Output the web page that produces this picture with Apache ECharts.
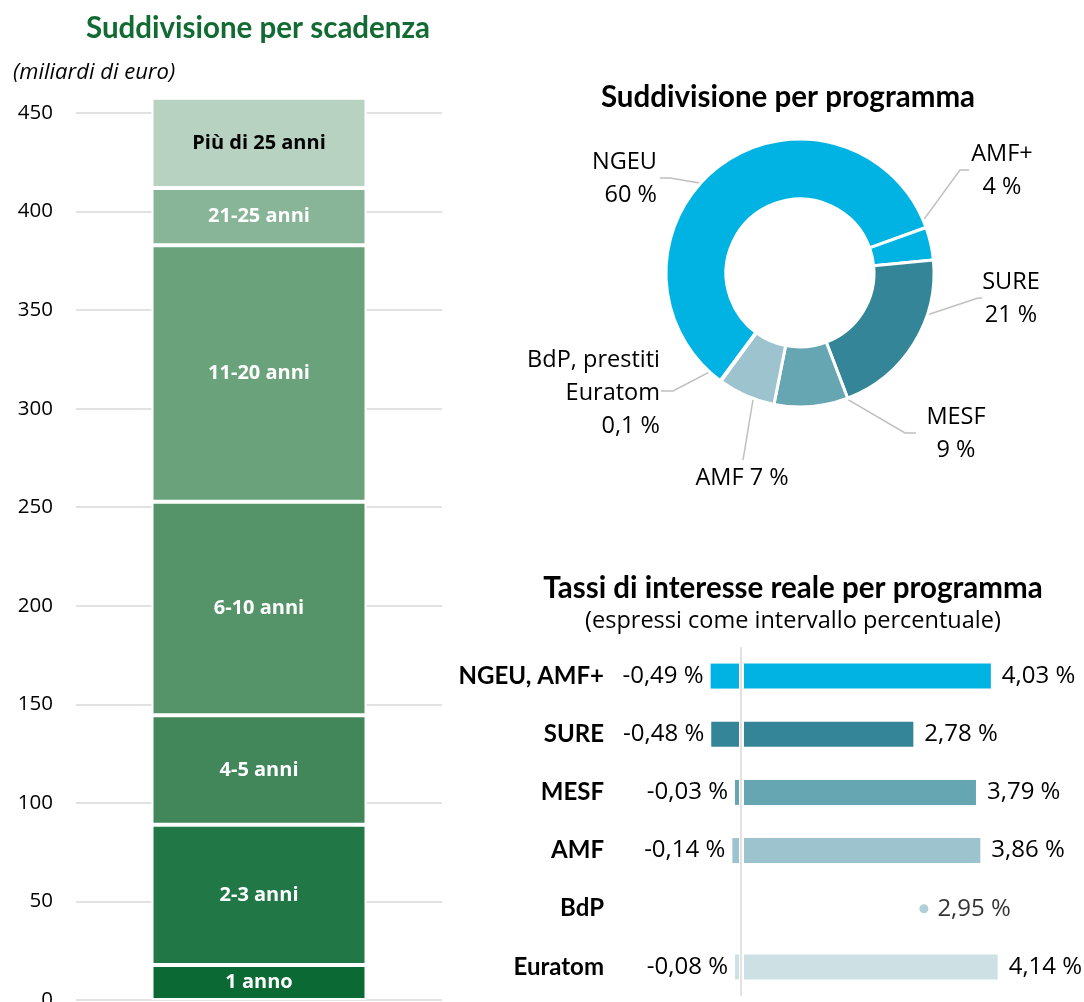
<!DOCTYPE html>
<html>
<head>
<meta charset="utf-8">
<title>Prestiti UE</title>
<script src="https://cdn.jsdelivr.net/npm/echarts@6.0.0/dist/echarts.min.js"></script>
<style>
  html, body { margin: 0; padding: 0; background: #fff; }
  #chart { width: 1084px; height: 1002px; }
</style>
</head>
<body>
<div id="chart"></div>
<script>
// dati
const maturityNames = ['1 anno', '2-3 anni', '4-5 anni', '6-10 anni', '11-20 anni', '21-25 anni', 'Più di 25 anni']
const maturityValues = [17.7, 71.2, 55.5, 108.4, 130.1, 29.0, 45.9]
const maturityColors = ['#0b6a33', '#217846', '#42875a', '#559469', '#6aa27c', '#88b598', '#b8d2c1']

const programmeNames = ['NGEU', 'AMF+', 'SURE', 'MESF', 'AMF', 'BdP, prestiti\nEuratom']
const programmeShares = [60, 4, 21, 9, 7, 0.1]
const programmeShareLabels = ['60 %', '4 %', '21 %', '9 %', '7 %', '0,1 %']
const programmeColors = ['#00b3e3', '#00b3e3', '#348597', '#66a5b2', '#9cc3ce', '#cde1e5']

const rateNames = ['NGEU, AMF+', 'SURE', 'MESF', 'AMF', 'BdP', 'Euratom']
const rateLow = [-0.49, -0.48, -0.03, -0.14, null, -0.08]
const rateHigh = [4.03, 2.78, 3.79, 3.86, null, 4.14]
const ratePoint = [null, null, null, null, 2.95, null]
const rateColors = ['#00b3e3', '#348597', '#66a5b2', '#9cc3ce', '#9cc3ce', '#cde1e5']

const HEAD = 'Lato'        // titoli ed etichette di categoria
const BODY = 'Open Sans'   // testi normali
const TXT = '#000'

const fmtPct = v => v.toFixed(2).replace('.', ',') + ' %'

// posizione delle etichette della ciambella
const pieCenter = [800, 273]
const pieRadius = [74, 134]
const pieLabelSpots = [
  { x: 657, y: 179, align: 'right', elbow: [670, 178], end: [660, 178] },
  { x: 1002, y: 171, align: 'center', elbow: [960, 170], end: [969, 170] },
  { x: 1011, y: 299, align: 'center', elbow: [978, 298], end: [982, 298] },
  { x: 956, y: 434, align: 'center', elbow: [905, 433], end: [916, 433] },
  { x: 742, y: 478, align: 'center', elbow: [743, 460], end: [743, 460] },
  { x: 660, y: 393, align: 'right', elbow: [673, 391], end: [661, 391] }
]

const chart = echarts.init(document.getElementById('chart'), null, { renderer: 'canvas' })

const maturitySeries = maturityNames.map((name, i) => ({
  name: name,
  type: 'bar',
  stack: 'scadenza',
  xAxisIndex: 0,
  yAxisIndex: 0,
  barWidth: 215,
  clip: false,
  data: [maturityValues[i]],
  itemStyle: { color: maturityColors[i], borderColor: '#fff', borderWidth: 2 },
  label: {
    show: true,
    position: 'inside',
    formatter: name,
    color: i === maturityNames.length - 1 ? '#000' : '#fff',
    fontFamily: BODY,
    fontWeight: 'bold',
    fontSize: 20
  }
}))

const valueLabel = {
  show: true,
  color: TXT,
  fontFamily: BODY,
  fontSize: 24
}

const option = {
  animation: false,
  backgroundColor: '#fff',
  graphic: [
    { type: 'text', style: { text: 'Suddivisione per scadenza', x: 258, y: 28, align: 'center', verticalAlign: 'middle', fill: '#136b34', font: 'bold 29.5px ' + HEAD } },
    { type: 'text', style: { text: '(miliardi di euro)', x: 13, y: 73, align: 'left', verticalAlign: 'middle', fill: TXT, font: 'italic 22px ' + BODY } },
    { type: 'text', style: { text: 'Suddivisione per programma', x: 788, y: 97, align: 'center', verticalAlign: 'middle', fill: TXT, font: 'bold 29.5px ' + HEAD } },
    { type: 'text', style: { text: 'Tassi di interesse reale per programma', x: 793, y: 588, align: 'center', verticalAlign: 'middle', fill: TXT, font: 'bold 29.5px ' + HEAD } },
    { type: 'text', style: { text: '(espressi come intervallo percentuale)', x: 793, y: 621, align: 'center', verticalAlign: 'middle', fill: TXT, font: '23.5px ' + BODY } }
  ],
  grid: [
    { left: 76, top: 113, width: 366, height: 887, outerBoundsMode: 'none' },
    { left: 617, top: 647, width: 434, height: 349, outerBoundsMode: 'none' }
  ],
  xAxis: [
    {
      gridIndex: 0,
      type: 'category',
      data: ['totale'],
      axisLine: { show: false },
      axisTick: { show: false },
      axisLabel: { show: false }
    },
    {
      gridIndex: 1,
      type: 'value',
      min: -2,
      max: 5,
      show: false
    }
  ],
  yAxis: [
    {
      gridIndex: 0,
      type: 'value',
      min: 0,
      max: 450,
      interval: 50,
      axisLine: { show: false },
      axisTick: { show: false },
      splitLine: { lineStyle: { color: '#d9d9d9', width: 1.5 } },
      axisLabel: { color: TXT, fontFamily: BODY, fontSize: 20.5, margin: 23 }
    },
    {
      gridIndex: 1,
      type: 'category',
      inverse: true,
      data: rateNames,
      axisLine: { show: false },
      axisTick: { show: false },
      splitLine: { show: false },
      axisLabel: { color: TXT, fontFamily: HEAD, fontWeight: 'bold', fontSize: 24, margin: 13 }
    }
  ],
  series: maturitySeries.concat([
    {
      name: 'programma',
      type: 'pie',
      center: pieCenter,
      radius: pieRadius,
      startAngle: 233.5,
      clockwise: true,
      avoidLabelOverlap: false,
      itemStyle: { borderColor: '#fff', borderWidth: 3 },
      data: programmeNames.map((n, i) => ({
        name: n,
        value: programmeShares[i],
        itemStyle: { color: programmeColors[i] }
      })),
      label: {
        show: true,
        color: TXT,
        fontFamily: BODY,
        fontSize: 23.5,
        lineHeight: 33,
        formatter: p => {
          const i = p.dataIndex
          if (i === 4) return programmeNames[i] + ' ' + programmeShareLabels[i]
          return programmeNames[i] + '\n' + programmeShareLabels[i]
        }
      },
      labelLine: { show: true, lineStyle: { color: '#bfbfbf', width: 1.5 } },
      labelLayout: params => {
        const spot = pieLabelSpots[params.dataIndex]
        const p0 = params.labelLinePoints[0]
        const dx = p0[0] - pieCenter[0]
        const dy = p0[1] - pieCenter[1]
        const d = Math.hypot(dx, dy) || 1
        const midR = (pieRadius[0] + pieRadius[1]) / 2
        const start = [pieCenter[0] + dx / d * midR, pieCenter[1] + dy / d * midR]
        return {
          x: spot.x,
          y: spot.y,
          align: spot.align,
          verticalAlign: 'middle',
          labelLinePoints: [start, spot.elbow, spot.end]
        }
      }
    },
    {
      name: 'minimo',
      type: 'bar',
      stack: 'tassi',
      xAxisIndex: 1,
      yAxisIndex: 1,
      barWidth: 25,
      barMinHeight: 6,
      data: rateLow.map((v, i) => v === null ? '-' : { value: v, itemStyle: { color: rateColors[i] } }),
      label: Object.assign({}, valueLabel, {
        position: 'left',
        distance: 7,
        formatter: p => fmtPct(p.value)
      })
    },
    {
      name: 'massimo',
      type: 'bar',
      stack: 'tassi',
      xAxisIndex: 1,
      yAxisIndex: 1,
      barWidth: 25,
      data: rateHigh.map((v, i) => v === null ? '-' : { value: v, itemStyle: { color: rateColors[i] } }),
      label: Object.assign({}, valueLabel, {
        position: 'right',
        distance: 11,
        formatter: p => fmtPct(p.value)
      }),
      markLine: {
        silent: true,
        symbol: 'none',
        label: { show: false },
        data: [
          { xAxis: 0, lineStyle: { color: '#fff', width: 5, type: 'solid' } },
          { xAxis: 0, lineStyle: { color: '#d9d9d9', width: 1.5, type: 'solid' } }
        ]
      }
    },
    {
      name: 'puntuale',
      type: 'scatter',
      xAxisIndex: 1,
      yAxisIndex: 1,
      symbolSize: 9,
      data: ratePoint.map((v, i) => v === null ? null : { value: [v, i], itemStyle: { color: rateColors[i] } }).filter(d => d),
      label: Object.assign({}, valueLabel, {
        position: 'right',
        distance: 9,
        formatter: p => fmtPct(p.value[0])
      })
    }
  ])
}

chart.setOption(option)
</script>
</body>
</html>
